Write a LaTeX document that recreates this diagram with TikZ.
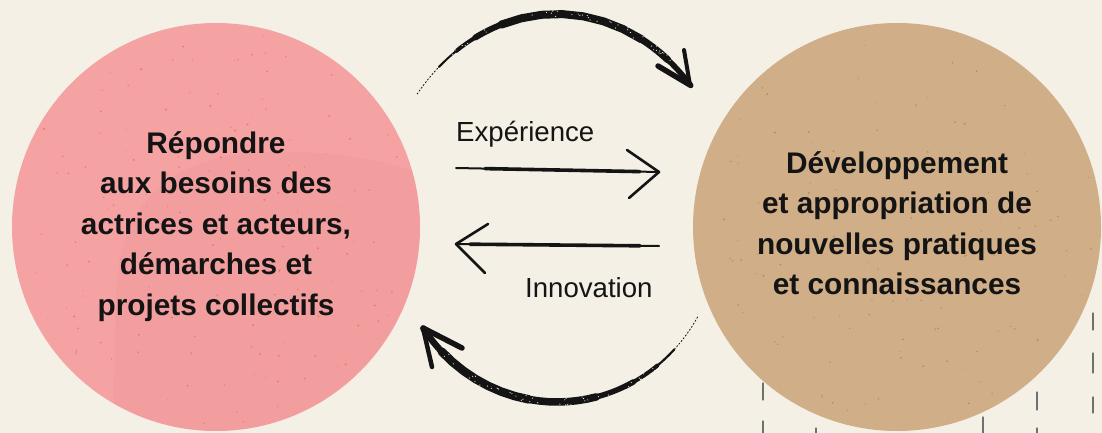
\documentclass[tikz,border=0pt]{standalone}
\usepackage{fontspec}
\setmainfont{Liberation Sans}
\newfontfamily\labfont{Liberation Sans}
\definecolor{paper}{HTML}{F4F0E6}
\definecolor{pinkc}{HTML}{F5A2A2}
\definecolor{pinkd}{HTML}{EF9090}
\definecolor{specr}{HTML}{E5484F}
\definecolor{tanc}{HTML}{D0AE88}
\definecolor{specb}{HTML}{8E6238}
\definecolor{ink}{HTML}{141414}
\definecolor{tickc}{HTML}{707070}
\begin{document}
\begin{tikzpicture}[x=1pt,y=-1pt,
  ctext/.style={anchor=base, inner sep=0pt, text=ink, font=\bfseries\fontsize{29.8}{32}\selectfont},
  ltext/.style={anchor=base west, inner sep=0pt, text=ink, font=\labfont\fontsize{27.6}{32}\selectfont},
  chalk/.style={draw=ink, line cap=round, line join=round},
  tickmark/.style={draw=tickc, line width=1.3pt, line cap=round},
  bigcircle/.style={circle, inner sep=0pt, minimum size=408pt, draw=none},
]
\useasboundingbox (0,0) rectangle (1102,433);
\fill[paper] (0,0) rectangle (1102,433);

% tick marks (background)
\foreach \tx/\ya/\yb in {763/383/400, 763/421/433, 816/428/433, 983/417/433, 1037/392/410, 1037/428/433, 1093/313/330, 1093/353/373, 1093/397/413}
  \draw[tickmark] (\tx,\ya) -- (\tx,\yb);

% circles
\node[bigcircle, fill=pinkc] (left) at (216,227) {};
\node[bigcircle, fill=tanc] (right) at (897,227) {};

\begin{scope}
  \clip (216,227) circle[radius=204];
  \fill[pinkd, opacity=0.2] (112,440) -- (116,300) .. controls (118,200) and (170,152) .. (280,152) .. controls (340,152) and (390,160) .. (430,178) -- (430,440) -- cycle;
\end{scope}

% speckles
\pgfmathsetseed{7}
\foreach \i in {1,...,160}{
  \pgfmathsetmacro\rr{198*sqrt(rnd)}
  \pgfmathsetmacro\aa{360*rnd}
  \pgfmathsetmacro\ss{0.4+0.8*rnd}
  \fill[specr, opacity=0.45] ({216+\rr*cos(\aa)},{227+\rr*sin(\aa)}) circle[radius=\ss];
}
\foreach \i in {1,...,110}{
  \pgfmathsetmacro\rr{198*sqrt(rnd)}
  \pgfmathsetmacro\aa{360*rnd}
  \pgfmathsetmacro\ss{0.4+0.7*rnd}
  \fill[specb, opacity=0.45] ({897+\rr*cos(\aa)},{227+\rr*sin(\aa)}) circle[radius=\ss];
}

% circle texts
\node[ctext] (l1) at (216,153) {Répondre};
\node[ctext] (l2) at (216,193.5) {aux besoins des};
\node[ctext] (l3) at (216,234) {actrices et acteurs,};
\node[ctext] (l4) at (216,274.5) {démarches et};
\node[ctext] (l5) at (216,315) {projets collectifs};

\node[ctext] (r1) at (897,173) {Développement};
\node[ctext] (r2) at (897,213.5) {et appropriation de};
\node[ctext] (r3) at (897,254) {nouvelles pratiques};
\node[ctext] (r4) at (897,294.5) {et connaissances};

% middle labels
\node[ltext] (exp) at (456,141) {Expérience};
\node[ltext] (inn) at (525,297) {Innovation};

% straight arrows
\coordinate (e1) at (456,168);
\coordinate (e2) at (659,172);
\coordinate (e3) at (627,150);
\coordinate (e4) at (629,198);
\draw[chalk, line width=2pt] (e1) -- (e2);
\draw[chalk, line width=3.6pt] (485,168.6) -- (640,171.6);
\draw[chalk, line width=2.6pt] (e3) -- (e2) -- (e4);

\coordinate (i1) at (659,246);
\coordinate (i2) at (456,244);
\coordinate (i3) at (488,224);
\coordinate (i4) at (485,273);
\draw[chalk, line width=2pt] (i1) -- (i2);
\draw[chalk, line width=3.6pt] (640,245.8) -- (470,244.2);
\draw[chalk, line width=2.6pt] (i3) -- (i2) -- (i4);

% top curved arrow
\draw[chalk, line width=0.8pt, dash pattern=on 1.5pt off 2pt] plot[domain=-141:-131, samples=8] ({557+180*cos(\x)},{230+216*sin(\x)});
\foreach \a/\b/\w in {-131/-124/2, -124/-117/4, -117/-108/6, -108/-62/8, -62/-52/7, -52/-42/5.5}
  \draw[chalk, line width=\w pt] plot[domain=\a:\b, samples=8] ({557+180*cos(\x)},{230+216*sin(\x)});
\coordinate (t0) at (690,85);
\coordinate (t1) at (658,66);
\coordinate (t2) at (684,50);
\draw[chalk, line width=5.5pt] (t1) -- (t0);
\draw[chalk, line width=4pt] (t2) -- (t0);

% bottom curved arrow
\foreach \a/\b/\w in {145/135/6.5, 135/100/8.5, 100/76/7.5, 76/62/5.5, 62/52/4, 52/44/2.2}
  \draw[chalk, line width=\w pt] plot[domain=\a:\b, samples=8] ({557+163*cos(\x)},{230+172*sin(\x)});
\draw[chalk, line width=0.8pt, dash pattern=on 1.5pt off 2pt] plot[domain=44:30, samples=8] ({557+163*cos(\x)},{230+172*sin(\x)});
\coordinate (b0) at (423,328);
\coordinate (b1) at (462,348);
\coordinate (b2) at (432,367);
\draw[chalk, line width=5.5pt] (b1) -- (b0);
\draw[chalk, line width=4.5pt] (b2) -- (b0);

% chalk texture: paper-coloured flecks on the strokes
\pgfmathsetseed{3}
\foreach \i in {1,...,45}{
  \pgfmathsetmacro\ta{-128+80*rnd}
  \pgfmathsetmacro\dd{-3.5+7*rnd}
  \fill[paper] ({557+(180+\dd)*cos(\ta)},{230+(216+\dd)*sin(\ta)}) circle[radius=0.6];
}
\foreach \i in {1,...,45}{
  \pgfmathsetmacro\ta{50+90*rnd}
  \pgfmathsetmacro\dd{-3.5+7*rnd}
  \fill[paper] ({557+(163+\dd)*cos(\ta)},{230+(172+\dd)*sin(\ta)}) circle[radius=0.6];
}
\end{tikzpicture}
\end{document}
